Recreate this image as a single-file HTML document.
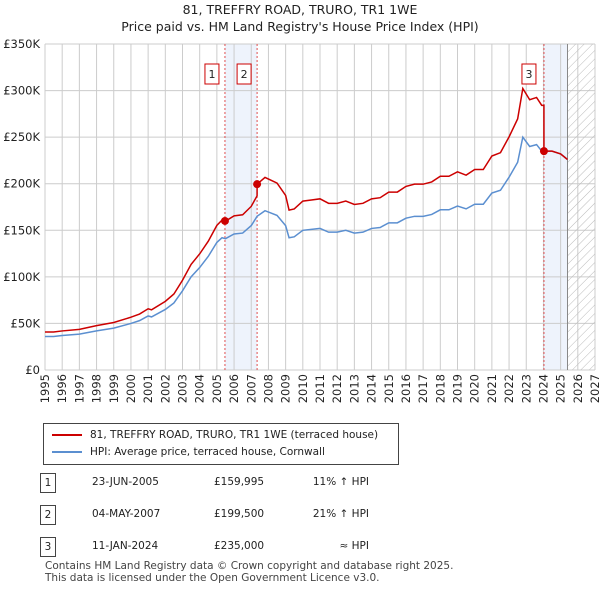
<!DOCTYPE html>
<html><head><meta charset="utf-8"><style>
body{margin:0;width:600px;height:590px;background:#fff;font-family:"DejaVu Sans","Liberation Sans",sans-serif;color:#222;position:relative;overflow:hidden}
.t{position:absolute;font-size:12.5px}
</style></head><body>
<div class="t" style="left:0;width:600px;text-align:center;top:2px">81, TREFFRY ROAD, TRURO, TR1 1WE</div>
<div class="t" style="left:0;width:600px;text-align:center;top:19px">Price paid vs. HM Land Registry's House Price Index (HPI)</div>
<svg id="c" width="600" height="410" style="position:absolute;left:0;top:0;font-family:'DejaVu Sans',sans-serif"></svg>
<div style="position:absolute;left:43px;top:423px;width:354px;height:40px;border:1px solid #444;font-size:10.5px">
 <div style="position:absolute;left:8px;top:5px"><span style="display:inline-block;width:30px;height:2px;background:#cc0000;vertical-align:middle;margin-right:8px"></span>81, TREFFRY ROAD, TRURO, TR1 1WE (terraced house)</div>
 <div style="position:absolute;left:8px;top:22px"><span style="display:inline-block;width:30px;height:2px;background:#5b8fd0;vertical-align:middle;margin-right:8px"></span>HPI: Average price, terraced house, Cornwall</div>
</div>
<div id="tbl"></div>
<div class="t" style="left:45px;top:560px;font-size:10.5px;color:#444;line-height:12px">Contains HM Land Registry data © Crown copyright and database right 2025.<br>This data is licensed under the Open Government Licence v3.0.</div>
<script>
const hpiYears=[1995,1995.5,1996,1997,1998,1999,2000,2000.5,2001,2001.2,2002,2002.5,2003,2003.5,2004,2004.5,2005,2005.3,2005.5,2006,2006.5,2007,2007.34,2007.8,2008.5,2009,2009.2,2009.5,2010,2010.5,2011,2011.5,2012,2012.5,2013,2013.5,2014,2014.5,2015,2015.5,2016,2016.5,2017,2017.5,2018,2018.5,2019,2019.5,2020,2020.5,2021,2021.5,2022,2022.5,2022.8,2023.2,2023.6,2023.9,2024,2024.5,2025,2025.4];
const hpiValues=[36,36,37,38.5,42,45,50,53,58,57,65,72,85,100,110,122,137,142,141,146,147,155,165,171,166,155,142,143,150,151,152,148,148,150,147,148,152,153,158,158,163,165,165,167,172,172,176,173,178,178,190,193,207,223,250,240,242,235,235,235,232,226];
const saleDates=[2005.47,2007.34,2024.03];
const salePrices=[159995,199500,235000];
const saleLabels=["1","2","3"];
const yTicks=[0,50,100,150,200,250,300,350];
const yLabels=["£0","£50K","£100K","£150K","£200K","£250K","£300K","£350K"];
const xTicks=[1995,1996,1997,1998,1999,2000,2001,2002,2003,2004,2005,2006,2007,2008,2009,2010,2011,2012,2013,2014,2015,2016,2017,2018,2019,2020,2021,2022,2023,2024,2025,2026,2027];
const tableDates=["23-JUN-2005","04-MAY-2007","11-JAN-2024"];
const tablePrices=["£159,995","£199,500","£235,000"];
const tableHpi=["11% ↑ HPI","21% ↑ HPI","≈ HPI"];
const X=y=>45+(y-1995)*550/32, Y=v=>370-v*326/350;
const NS="http://www.w3.org/2000/svg",svg=document.getElementById('c');
function el(t,a,p){const e=document.createElementNS(NS,t);for(const k in a)e.setAttribute(k,a[k]);(p||svg).appendChild(e);return e}
function hpiAt(t){for(let i=0;i<hpiYears.length-1;i++)if(t<=hpiYears[i+1]){const f=(t-hpiYears[i])/(hpiYears[i+1]-hpiYears[i]);return hpiValues[i]+f*(hpiValues[i+1]-hpiValues[i])}return hpiValues[hpiValues.length-1]}
const dataEnd=hpiYears[hpiYears.length-1];
let r=el('rect',{x:X(saleDates[0]),y:44,width:X(saleDates[1])-X(saleDates[0]),height:326,fill:'#eef3fc'});


r=el('rect',{x:X(saleDates[2]),y:44,width:X(dataEnd)-X(saleDates[2]),height:326,fill:'#eef3fc'});


const defs=el('defs',{});const pat=el('pattern',{id:'h',width:6,height:6,patternUnits:'userSpaceOnUse',patternTransform:'rotate(45)'},defs);el('line',{x1:0,y1:0,x2:0,y2:6,stroke:'#bbb','stroke-width':1},pat);
xTicks.forEach(t=>{const l=el('line',{x1:X(t),x2:X(t),y1:44,y2:370,stroke:'#ccc'});
 const tx=el('text',{x:0,y:0,transform:`translate(${X(t)+4},374) rotate(-90)`,'text-anchor':'end','font-size':11.5,fill:'#222'});tx.textContent=t;});
yTicks.forEach((v,i)=>{const l=el('line',{x1:45,x2:595,y1:Y(v),y2:Y(v),stroke:'#ccc'});
 const tx=el('text',{x:40,y:Y(v)+4,'text-anchor':'end','font-size':11.5,fill:'#222'});tx.textContent=yLabels[i];});
r=el('rect',{x:X(dataEnd),y:44,width:595-X(dataEnd),height:326,fill:'url(#h)'});


el('line',{x1:X(dataEnd),x2:X(dataEnd),y1:44,y2:370,stroke:'#888'});
saleDates.forEach((d,i)=>{const l=el('line',{x1:X(d),x2:X(d),y1:44,y2:370,stroke:'#e05050','stroke-dasharray':'2,2','stroke-width':1});
 const bx=el('rect',{x:X(d)-20+ (i==2?-2:0),y:64,width:14,height:20,fill:'#fff',stroke:'#cc0000'});
 const tx=el('text',{x:X(d)-13+(i==2?-2:0),y:78,'text-anchor':'middle','font-size':11,fill:'#222'});tx.textContent=saleLabels[i];});
const blue=hpiYears.map((t,i)=>X(t)+','+Y(hpiValues[i])).join(' ');
let p=el('polyline',{points:blue,fill:'none',stroke:'#5b8fd0','stroke-width':1.5});


function redAt(t){let k=0;for(let i=0;i<saleDates.length;i++)if(t>=saleDates[i])k=i;return salePrices[k]/1000*hpiAt(t)/hpiAt(saleDates[k])}
const rt=[...hpiYears,...saleDates,...saleDates.map(d=>d-0.001)].sort((a,b)=>a-b);
p=el('polyline',{points:rt.map(t=>X(t)+','+Y(redAt(t))).join(' '),fill:'none',stroke:'#cc0000','stroke-width':1.5});


saleDates.forEach((d,i)=>{const c=el('circle',{cx:X(d),cy:Y(salePrices[i]/1000),r:4,fill:'#cc0000'});});
const tb=document.getElementById('tbl');
tableDates.forEach((d,i)=>{const y=473+i*32;const row=document.createElement('div');


row.style.cssText=`position:absolute;left:0;top:${y}px;width:600px;height:20px;font-size:10.5px`;
row.innerHTML=`<span style="position:absolute;left:40px;top:0;width:14px;height:18px;border:1px solid #444;text-align:center;line-height:18px">${saleLabels[i]}</span><span style="position:absolute;left:92px;top:3px">${d}</span><span style="position:absolute;left:214px;top:3px">${tablePrices[i]}</span><span style="position:absolute;right:231px;top:3px">${tableHpi[i]}</span>`;
tb.appendChild(row);});
</script>
</body></html>
